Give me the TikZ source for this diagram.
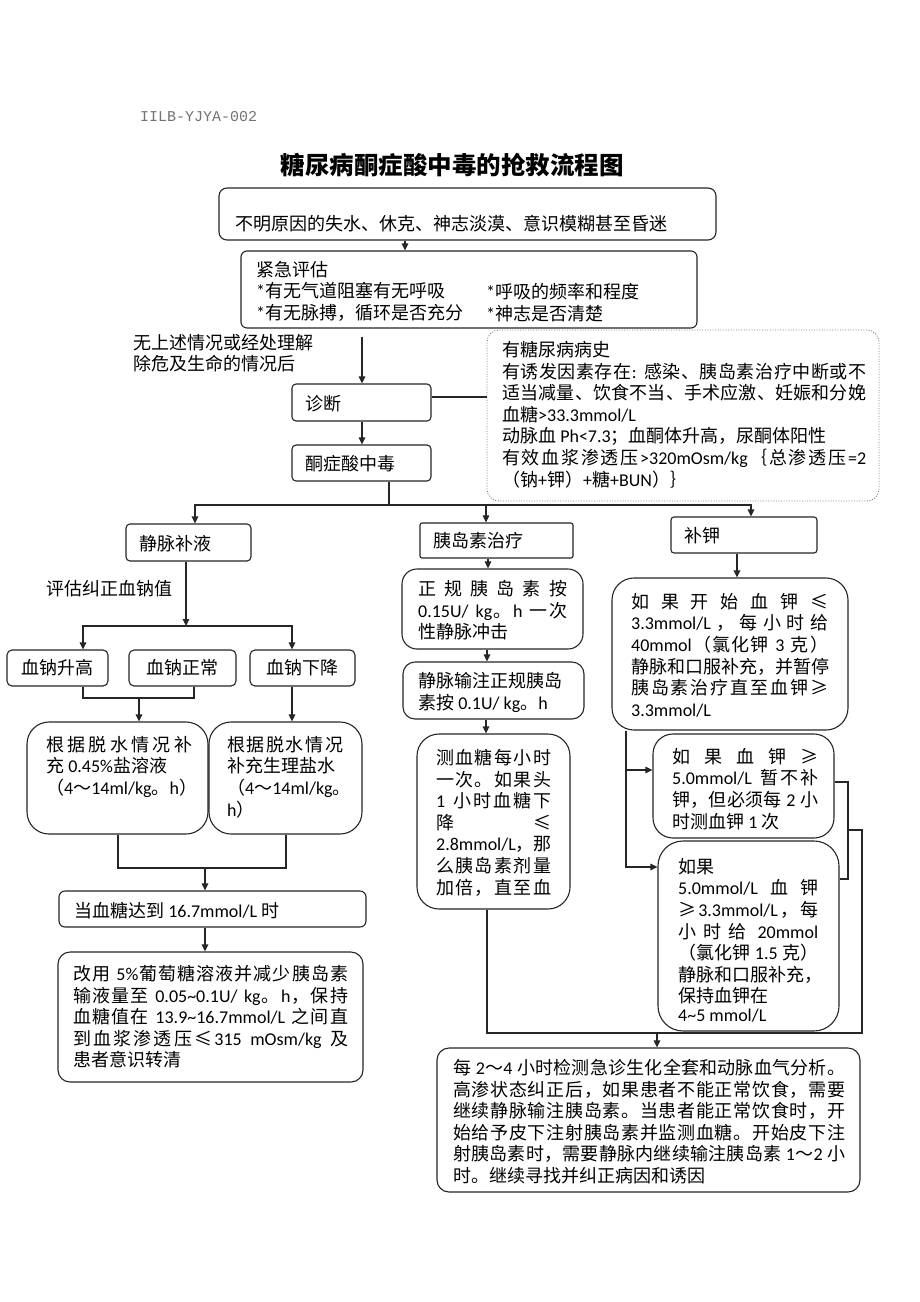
\documentclass[tikz,border=0pt]{standalone}
\usepackage{fontspec}
\setmainfont{Carlito}
\newfontfamily\cjkfont{Noto Sans CJK SC}
\newfontfamily\latfont{Carlito}
\newfontfamily\monofont{Liberation Mono}
\usetikzlibrary{arrows.meta}
\XeTeXinterchartokenstate=1
\newXeTeXintercharclass\cjkc
\newcount\cjkn
\def\setcjkrange#1#2{\cjkn=#1 \loop\XeTeXcharclass\cjkn=\cjkc\advance\cjkn by 1 \ifnum\cjkn<#2 \repeat}
\setcjkrange{"3000}{"3040}
\setcjkrange{"4E00}{"A000}
\setcjkrange{"FF00}{"FF60}
\XeTeXcharclass"2264=\cjkc
\XeTeXcharclass"2265=\cjkc
\XeTeXinterchartoks\cjkc\cjkc={\nobreak\hskip0pt plus 1pt\relax}
\XeTeXinterchartoks 0 \cjkc={\nobreak\hskip0pt plus 1pt\relax\cjkfont}
\XeTeXinterchartoks \cjkc 0={\latfont\nobreak\hskip0pt plus 1pt\relax}
\XeTeXinterchartoks 4095 \cjkc={\cjkfont}
\XeTeXinterchartoks \cjkc 4095={\latfont}
\newcommand\fs{\fontsize{18pt}{21.6pt}\selectfont}
\newcommand\jl[2]{\hbox to #1pt{#2}}
\newcommand\tl{\string~}
\tikzset{
 bx/.style={draw=black!85, line width=1.1pt, inner sep=0pt},
 ln/.style={line width=1.1pt, draw=black!85},
 arr/.style={ln, -{Triangle[length=7pt,width=6.5pt]}},
 txt/.style={anchor=north west, inner sep=0pt, align=left, font=\fs, execute at begin node={\rule{0pt}{16pt}}},
}
\begin{document}
\begin{tikzpicture}[x=1pt,y=-1pt]
\fill[white] (0,0) rectangle (920,1302);
\useasboundingbox (0,0) rectangle (920,1302);

\node[anchor=west, inner sep=0pt, font=\monofont\fontsize{15pt}{18pt}\selectfont, text=black!55] (code) at (140,117) {IILB-YJYA-002};
\node[inner sep=0pt, font=\fontsize{24.5pt}{28pt}\selectfont\bfseries] (title) at (452,165) {糖尿病酮症酸中毒的抢救流程图};

% top
\node[bx, rounded corners=8pt, minimum width=497pt, minimum height=52pt] (A) at (467.5,214) {};
\node[txt] (At) at (235,214) {不明原因的失水、休克、神志淡漠、意识模糊甚至昏迷};
\node[bx, rounded corners=6pt, minimum width=456pt, minimum height=77pt] (B) at (469,289.5) {};
\node[txt] (Bt1) at (256,261) {紧急评估\\{*}有无气道阻塞有无呼吸\\{*}有无脉搏，循环是否充分};
\node[txt] (Bt2) at (486,283) {*呼吸的频率和程度\\{*}神志是否清楚};
\node[txt] (note) at (133,334) {无上述情况或经处理解\\除危及生命的情况后};
\node[bx, rounded corners=4pt, minimum width=139pt, minimum height=37pt] (D) at (361.5,402.5) {};
\node[txt] (Dt) at (305,394) {诊断};
\node[bx, rounded corners=4pt, minimum width=139pt, minimum height=36pt] (K) at (361.5,463) {};
\node[txt] (Kt) at (305,454) {酮症酸中毒};
\node[draw=black!50, line width=0.9pt, dash pattern=on 1pt off 1.6pt, rounded corners=12pt, inner sep=0pt, minimum width=392pt, minimum height=171pt] (P) at (683,415.5) {};
\node[txt] (Pt) at (502,341) {有糖尿病病史\\\jl{364}{有诱发因素存在: 感染、胰岛素治疗中断或不}\\\jl{364}{适当减量、饮食不当、手术应激、妊娠和分娩}\\血糖>33.3mmol/L\\动脉血 Ph<7.3；血酮体升高，尿酮体阳性\\\jl{364}{有效血浆渗透压>320mOsm/kg｛总渗透压=2}\\（钠+钾）+糖+BUN）｝};

\draw[arr] (A.south -| 405,0) -- (B.north -| 405,0);
\coordinate (b1) at (362,337);
\draw[arr] (b1) -- (D.north -| b1);
\draw[arr] (D.south -| 362,0) -- (K.north -| 362,0);
\draw[ln] (D.east |- 0,397) -- (P.west |- 0,397);

% three branches
\node[bx, rounded corners=4pt, minimum width=125pt, minimum height=37pt] (V) at (188.5,542.5) {};
\node[txt] (Vt) at (139,534) {静脉补液};
\node[bx, rounded corners=2pt, minimum width=153pt, minimum height=35pt] (Ins) at (496.5,540.5) {};
\node[txt] (Inst) at (433,531) {胰岛素治疗};
\node[bx, rounded corners=3pt, minimum width=146pt, minimum height=36pt] (Kb) at (744,535) {};
\node[txt] (Kbt) at (684,526) {补钾};
\coordinate (br) at (389,505);
\draw[ln] (K.south -| br) -- (br);
\draw[arr] (br) -| (V.north -| 195,0);
\draw[arr] (br) -| (Ins.north -| 486,0);
\draw[arr] (br) -| (Kb.north -| 751,0);

% left column
\node[txt] (evt) at (46,579) {评估纠正血钠值};
\coordinate (na) at (186,626);
\draw[arr] (V.south -| na) -- (na);
\node[bx, rounded corners=5pt, minimum width=101pt, minimum height=36pt, font=\fs] (Na1) at (57.5,668) {血钠升高};
\node[bx, rounded corners=5pt, minimum width=107pt, minimum height=36pt, font=\fs] (Na2) at (182.5,668) {血钠正常};
\node[bx, rounded corners=5pt, minimum width=105pt, minimum height=36pt, font=\fs] (Na3) at (302.5,668) {血钠下降};
\draw[arr] (na) -| (Na1.north -| 83,0);
\draw[arr] (na) -| (Na3.north -| 292,0);
\node[bx, rounded corners=22pt, minimum width=181pt, minimum height=112pt] (L1) at (117.5,778) {};
\node[bx, rounded corners=22pt, minimum width=153pt, minimum height=112pt] (L2) at (285.5,778) {};
\coordinate (j1) at (139,698);
\draw[ln] (Na1.south -| 83,0) |- (j1) -| (Na2.south -| 194,0);
\draw[arr] (j1) -- (L1.north -| j1);
\draw[arr] (Na3.south -| 292,0) -- (L2.north -| 292,0);
\node[txt] (L1t) at (46,736) {\jl{146}{根据脱水情况补}\\充 0.45\%盐溶液\\（4～14ml/kg。h）};
\node[txt] (L2t) at (227,736) {\jl{116}{根据脱水情况}\\补充生理盐水\\（4～14ml/kg。\\h）};
\coordinate (j2) at (205,868);
\draw[ln] (L1.south -| 118,0) |- (j2) -| (L2.south -| 286,0);
\node[bx, rounded corners=6pt, minimum width=307pt, minimum height=36pt] (M) at (212.5,909) {};
\node[txt] (Mt) at (74,901) {当血糖达到 16.7mmol/L 时};
\draw[arr] (j2) -- (M.north -| j2);
\node[bx, rounded corners=12pt, minimum width=305pt, minimum height=130pt] (N) at (210.5,1017) {};
\draw[arr] (M.south -| 205,0) -- (N.north -| 205,0);
\node[txt] (Nt) at (73,965) {\jl{275}{改用 5\%葡萄糖溶液并减少胰岛素}\\\jl{275}{输液量至 0.05\tl0.1U/ kg。h，保持}\\\jl{275}{血糖值在 13.9\tl16.7mmol/L 之间直}\\\jl{275}{到血浆渗透压≤315 mOsm/kg 及}\\患者意识转清};

% insulin column
\node[bx, rounded corners=15pt, minimum width=181pt, minimum height=80pt] (I1) at (492.5,609) {};
\node[txt] (I1t) at (418,580) {\jl{149}{正规胰岛素按}\\\jl{149}{0.15U/ kg。h 一次}\\性静脉冲击};
\node[bx, rounded corners=12pt, minimum width=181pt, minimum height=57pt] (I2) at (493.5,690.5) {};
\node[txt] (I2t) at (418,672) {静脉输注正规胰岛\\素按 0.1U/ kg。h};
\node[bx, rounded corners=22pt, minimum width=153pt, minimum height=175pt] (I3) at (493.5,821.5) {};
\node[txt] (I3t) at (436,749) {\jl{115}{测血糖每小时}\\\jl{115}{一次。如果头}\\\jl{115}{1 小时血糖下}\\\jl{115}{降\hfill ≤}\\\jl{115}{2.8mmol/L，那}\\\jl{115}{么胰岛素剂量}\\\jl{115}{加倍，直至血}};
\draw[arr] (Ins.south -| 488,0) -- (I1.north -| 488,0);
\draw[arr] (I1.south -| 487,0) -- (I2.north -| 487,0);
\draw[arr] (I2.south -| 486,0) -- (I3.north -| 486,0);

% potassium column
\node[bx, rounded corners=22pt, minimum width=236pt, minimum height=152pt] (K1) at (730,654) {};
\node[txt] (K1t) at (631,593) {\jl{197}{如果开始血钾≤}\\\jl{197}{3.3mmol/L，每小时给}\\\jl{197}{40mmol（氯化钾 3 克）}\\静脉和口服补充，并暂停\\\jl{197}{胰岛素治疗直至血钾≥}\\3.3mmol/L};
\node[bx, rounded corners=20pt, minimum width=181pt, minimum height=104pt] (K2) at (743.5,786) {};
\node[txt] (K2t) at (672,748) {\jl{146}{如果血钾≥}\\\jl{146}{5.0mmol/L 暂不补}\\\jl{146}{钾，但必须每 2 小}\\时测血钾 1 次};
\node[bx, rounded corners=25pt, minimum width=181pt, minimum height=190pt] (K3) at (748.5,936) {};
\node[txt] (K3t) at (678,858) {如果\\\jl{140}{5.0mmol/L\hfill 血\hfill 钾}\\\jl{140}{≥3.3mmol/L，每}\\\jl{140}{小\hskip 0pt plus 1fil 时\hskip 0pt plus 1fil 给\hskip 0pt plus 1.5fil 20mmol}\\\jl{140}{（氯化钾 1.5 克）}\\静脉和口服补充，\\保持血钾在\\[-3.5pt]4\tl5 mmol/L};
\draw[arr] (Kb.south -| 737,0) -- (K1.north -| 737,0);
\draw[arr] (K1.south -| 626,0) |- (K2.west |- 0,770);
\draw[arr] (K1.south -| 626,0) |- (K3.west |- 0,867);
\coordinate (kk) at (848,830);
\draw[ln] (K2.east |- 0,782) -| (kk) |- (K3.east |- 0,879);

% bottom
\node[bx, rounded corners=12pt, minimum width=423pt, minimum height=144pt] (F) at (648.5,1120) {};
\node[txt] (Ft) at (453,1059) {\jl{392}{每 2～4 小时检测急诊生化全套和动脉血气分析。}\\\jl{392}{高渗状态纠正后，如果患者不能正常饮食，需要}\\\jl{392}{继续静脉输注胰岛素。当患者能正常饮食时，开}\\\jl{392}{始给予皮下注射胰岛素并监测血糖。开始皮下注}\\\jl{392}{射胰岛素时，需要静脉内继续输注胰岛素 1～2 小}\\时。继续寻找并纠正病因和诱因};
\coordinate (rb) at (862,1033);
\coordinate (bj) at (657,1033);
\draw[ln] (I3.south -| 487,0) |- (rb) |- (kk);
\draw[arr] (bj) -- (F.north -| bj);
\end{tikzpicture}
\end{document}
